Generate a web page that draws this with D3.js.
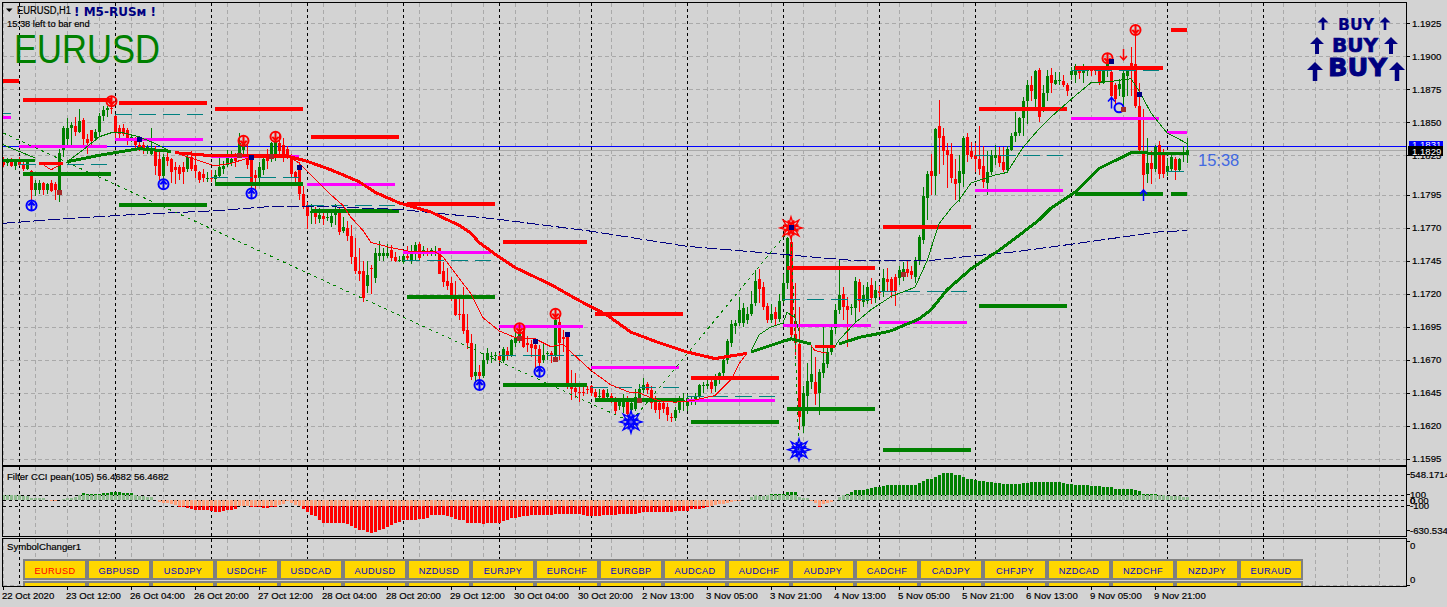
<!DOCTYPE html>
<html><head><meta charset="utf-8">
<script src="https://cdn.jsdelivr.net/npm/d3@7/dist/d3.min.js"></script>
<style>html,body{margin:0;padding:0;background:#d3d3d3;overflow:hidden}svg{display:block;font-family:"Liberation Sans",Arial,sans-serif}</style>
</head><body><svg id="c" width="1447" height="607"></svg>
<script>
// All prices are in points above 1.1000 (821 = 1.1821). Bars are hourly, index 0..296.
const opens=[821,819,820,817,820,818,815,813,799,799,
804,799,804,803,799,829,837,846,847,843,
852,837,844,838,843,855,859,861,855,846,
846,844,837,838,833,833,828,826,830,822,
809,824,822,816,816,816,815,824,818,812,
811,808,808,807,809,815,818,819,823,825,
829,826,824,810,808,814,824,824,826,834,
833,830,824,812,817,796,787,781,782,777,
779,778,774,780,781,768,770,764,748,737,
737,726,740,732,749,749,749,753,748,746,
744,749,746,751,758,752,752,752,751,755,
737,730,728,719,705,705,693,683,658,661,
658,670,672,673,673,669,677,674,683,687,
692,683,682,681,678,670,675,675,673,699,
687,687,652,649,646,646,648,650,646,642,
647,642,643,641,635,634,641,632,633,640,
647,652,647,639,637,637,634,627,626,632,
639,635,640,638,642,650,650,653,650,655,
660,670,683,696,698,698,700,705,713,731,
725,711,700,706,701,715,728,759,690,682,
620,643,653,653,645,660,667,676,694,708,
720,711,709,709,729,714,715,727,717,722,
722,731,731,733,732,733,739,737,733,745,
761,793,813,809,847,840,829,826,807,804,
811,839,828,825,822,817,804,812,823,825,
820,814,829,840,842,853,866,878,868,890,
861,872,886,879,881,881,878,886,886,890,
887,889,891,891,890,880,891,888,878,875,
869,885,895,894,862,828,811,819,815,833,
827,812,815,822,814,825,825];
const highs=[824,823,823,821,824,822,822,814,806,806,
805,804,806,805,830,847,853,850,854,860,
853,841,844,845,857,862,862,866,856,848,
849,846,841,839,837,835,833,846,832,828,
826,828,823,820,818,820,826,828,825,813,
815,812,814,814,823,821,829,828,827,842,
837,833,826,814,820,825,830,835,840,842,
838,832,826,813,820,802,790,788,786,785,
783,782,783,788,786,778,775,772,762,755,
745,745,742,755,760,755,758,757,752,749,
753,756,757,759,759,756,755,755,756,755,
744,740,733,730,719,725,705,690,682,666,
675,679,676,676,675,680,680,686,692,695,
695,688,685,683,681,683,677,677,704,704,
693,690,662,660,652,650,650,651,648,648,
648,648,645,642,641,644,643,640,648,652,
656,653,650,643,640,641,637,630,634,643,
645,644,643,645,652,653,655,656,659,661,
672,686,700,700,718,713,710,722,738,739,
729,713,712,710,720,735,763,765,728,710,
650,668,681,672,663,696,680,697,712,746,
725,718,712,733,731,727,729,732,730,726,
739,740,733,735,741,744,746,741,748,765,
801,813,826,846,867,846,834,834,822,825,
840,842,835,834,847,832,828,829,833,831,
831,832,842,858,854,869,882,885,890,891,
878,890,891,888,888,886,880,892,894,892,
894,893,892,893,893,893,897,890,880,883,
889,893,907,916,880,860,838,828,833,836,
830,823,826,824,823,832,838];
const lows=[816,817,816,814,817,813,814,791,794,796,
795,796,797,791,790,824,831,831,840,842,
831,826,832,836,840,851,854,856,838,838,
840,833,835,830,828,826,826,825,810,806,
805,817,804,803,806,803,812,813,808,804,
805,805,805,805,808,811,816,817,816,823,
824,815,799,797,804,810,815,820,821,826,
820,822,808,805,791,784,769,773,773,774,
772,775,771,772,765,766,760,743,735,730,
714,721,720,728,745,745,747,745,744,744,
743,745,743,745,745,749,749,749,749,735,
725,723,715,703,700,690,678,655,654,655,
656,667,668,669,668,668,670,672,680,683,
679,676,672,663,662,668,670,668,672,670,
676,648,640,641,638,643,644,643,640,639,
639,640,637,629,632,630,627,630,631,637,
645,644,633,630,625,630,624,623,624,630,
631,631,636,636,640,645,648,645,646,652,
656,667,680,690,696,695,697,703,711,713,
708,698,698,696,699,713,724,685,674,617,
615,629,648,636,628,656,664,674,690,705,
700,680,704,698,706,710,712,712,713,718,
718,722,717,711,727,730,733,731,728,742,
758,776,795,795,811,818,800,804,791,790,
801,820,822,812,810,800,795,810,818,816,
812,812,828,835,840,840,849,866,860,850,
858,866,872,878,878,877,870,882,880,883,
880,885,885,886,878,879,884,866,864,870,
860,870,870,861,828,795,804,803,812,807,
808,809,812,806,812,820,819];
const closes=[818,820,817,820,818,815,820,799,804,804,
799,803,798,799,827,846,846,848,843,851,
837,834,836,843,855,859,861,860,843,841,
841,836,839,833,829,829,831,830,817,809,
824,821,812,814,811,812,824,815,813,806,
808,808,807,810,816,817,824,822,821,834,
834,818,803,808,816,822,821,834,835,828,
825,824,811,808,796,786,779,783,778,780,
777,778,779,782,767,771,764,748,737,735,
717,734,739,751,751,751,751,747,745,746,
749,747,750,757,747,753,751,753,752,735,
729,726,718,704,704,692,683,657,661,658,
670,675,673,674,670,678,673,685,687,691,
680,681,679,678,668,674,675,673,700,683,
686,652,648,646,645,645,647,645,642,643,
640,645,641,631,639,641,629,637,642,648,
651,647,637,632,632,633,628,626,632,641,
640,641,640,643,651,651,652,648,656,660,
670,684,697,698,708,709,705,712,730,724,
710,700,705,701,715,728,762,689,683,627,
645,654,659,644,661,668,676,693,708,719,
710,708,710,730,715,719,725,717,723,721,
732,729,722,722,738,739,736,734,746,763,
794,811,809,845,838,828,825,808,803,813,
838,825,824,822,815,805,812,825,825,819,
814,830,840,843,853,866,878,874,889,854,
872,885,880,882,882,878,874,889,893,887,
890,890,889,889,880,889,895,870,868,879,
887,890,893,862,829,810,819,815,831,811,
811,817,824,814,822,827,829];
const cciValues=[95,95,92,90,88,85,80,50,45,45,
40,15,-8,-10,5,30,45,50,60,95,
136,118,112,118,124,136,142,154,154,154,
136,136,130,95,85,75,65,55,0,-30,
-40,-45,-70,-90,-118,-124,-136,-160,-178,-184,
-184,-184,-190,-214,-208,-196,-184,-178,-166,-98,
-96,-98,-130,-130,-130,-142,-142,-130,-124,-90,
-60,-20,-50,-80,-104,-154,-214,-274,-292,-364,
-412,-412,-412,-412,-412,-412,-424,-466,-502,-532,
-538,-580,-598,-574,-532,-526,-484,-454,-412,-388,
-364,-352,-352,-352,-340,-334,-316,-274,-268,-274,
-274,-292,-304,-340,-352,-364,-412,-412,-412,-412,
-436,-412,-412,-412,-412,-376,-364,-328,-328,-304,
-292,-292,-274,-274,-274,-274,-274,-274,-256,-256,
-244,-256,-256,-256,-256,-274,-292,-292,-292,-292,
-274,-274,-274,-274,-256,-256,-256,-256,-256,-232,
-220,-220,-220,-220,-220,-220,-220,-220,-202,-202,
-202,-196,-166,-166,-166,-142,-124,-106,-90,-70,
-60,-50,-30,-20,-5,0,15,60,90,85,
85,90,115,115,115,115,160,160,160,55,
50,45,-10,-50,-120,-60,-45,-30,10,60,
95,120,145,196,196,196,208,232,250,250,
268,286,286,286,286,286,286,286,286,322,
358,394,394,430,466,502,502,502,466,466,
430,394,394,376,358,346,328,328,322,310,
298,304,298,298,298,316,322,334,334,334,
334,334,334,334,334,316,304,298,286,286,
286,274,268,268,256,244,238,238,214,208,
208,202,202,190,166,124,124,124,118,95,
90,85,85,80,70,60,56];

// Fast moving average (thin line): bar, value, colour state
const thinBars=[0,8,9,12,15,16,20,24,27,30,34,38,42,43,49,53,57,62,67,72,74,82,85,87,90,92,97,102,108,110,113,117,120,124,128,133,137,140,142,147,152,157,159,164,168,172,178,182,184,186,187,189,192,195,196,198,199,202,203,206,208,209,213,217,222,228,231,234,237,239,242,248,251,255,259,262,268,272,277,282,284,287,291,296];
const thinPts=[833,823,820,814,819,820,829,839,842,842,839,834,828,827,821,817,819,823.5,823.5,823.5,819,795,787,778,768,759,755,752,752,748,736,720,702,692,687,686,680,682,676,662,651,645,645,639,638,639,643,655,667,675,677,689,695,698,706,702,692,681,677,675,680,685,698,708,718,725,745,773,785,791,804,810,812,831,845,854,870,880,881,883,874,857,842,834];
const thinColor=[].concat(Array(2).fill("g"),Array(3).fill("r"),Array(8).fill("g"),Array(37).fill("r"),Array(7).fill("g"),Array(3).fill("r"),Array(24).fill("g"));
// Slow moving average (thick line)
const thickBars=[0,8,9,15,16,24,34,42,43,51,59,71,76,82,89,93,99,107,114,117,119,124,128,137,144,151,157,164,171,178,186,187,191,196,197,202,203,208,209,214,219,222,229,232,236,242,249,253,259,262,268,274,278,282,290,296];
const thickPts=[821,821,819,819,820,825,830,828,827,825,824.5,824.5,820.5,814,805,797,789,782,772,766,759,748,740,727,715,704,691,683,676,671,675,676,680,685,686,682,680,680,682,687,690,692,701,708,723,739,753,762,776,785,797,815,821,827,826.5,826.5];
const thickColor=[].concat(Array(2).fill("g"),Array(2).fill("r"),Array(4).fill("g"),Array(23).fill("r"),Array(5).fill("g"),Array(2).fill("r"),Array(18).fill("g"));
// Long moving average (navy dashes)
const longBars=[0,16,32,53,66,82,99,124,147,171,191,202,214,231,240,252,268,289,296];
const longPts=[773.5,777,780,783,786,786,784,776.5,767.5,756,751,748,745,745,748,751.5,758,767,768];
// ZigZag (dotted)
const zigBars=[0,157,197,199];
const zigPts=[842,623,770,602];

// Daily levels
const redStart=[0,5,29,53,77,101,125,148,172,196,220,244,268,292];
const redEnd=[4,27,51,75,99,123,146,170,194,218,242,266,290,296];
const redLevels=[881,867,865,860,839,788,759,704.5,656,740,770.5,860,891,920];
const greenStart=[5,29,53,77,101,125,148,172,196,220,244,268,292];
const greenEnd=[27,51,75,99,123,146,170,194,218,242,266,290,296];
const greenLevels=[811,787,803,783,718,651,640,623,633,602,711,795.5,795.5];
const midStart=[0,4,28,52,76,100,124,147,171,195,219,243,267,291];
const midEnd=[2,26,50,74,98,122,145,169,193,217,241,265,289,296];
const magentaLevels=[854,832,837,824,803,751,695,664,639,696,698,798.5,853,842];
const tealLevels=[857,818,856,808,787,745.5,673.5,649,642,716,722,825,889,813];

// Signals
const redRingBars=[27,60,68,129,138,276,283], redRingPts=[866,836,839,694,705,898.5,920];
const blueRingBars=[7,40,62,119,134], blueRingPts=[787,803,796,651,661];
const navyBars=[34,62,74,133,141,197,277,284], navyPts=[837,823,816,684,689,770,896,871];
const brownBars=[14,59,67,129,138,159,225,280], brownPts=[797,825,824,686,670,639,735,860];
const redStarBars=[197], redStarPts=[770];
const blueStarBars=[157,199], blueStarPts=[623,602];
const upArrowBars=[277,285], upArrowPts=[865,795];
const downArrowBars=[280], downArrowPts=[901];

const askPts=831.3, bidPts=828.7;
const priceTicks=[925,900,875,850,825,795,770,745,720,695,670,645,620,595];
const dayBreakBars=[4,28,52,76,100,124,147,171,195,219,243,267,291,315];
const timeTickBars=[0,16,32,48,64,80,96,112,128,144,160,176,192,208,224,240,256,272,288];
const timeLabels=["22 Oct 2020","23 Oct 12:00","26 Oct 04:00","26 Oct 20:00","27 Oct 12:00","28 Oct 04:00","28 Oct 20:00","29 Oct 12:00","30 Oct 04:00","30 Oct 20:00","2 Nov 13:00","3 Nov 05:00","3 Nov 21:00","4 Nov 13:00","5 Nov 05:00","5 Nov 21:00","6 Nov 13:00","9 Nov 05:00","9 Nov 21:00"];
const symbols=["EURUSD","GBPUSD","USDJPY","USDCHF","USDCAD","AUDUSD","NZDUSD","EURJPY","EURCHF","EURGBP","AUDCAD","AUDCHF","AUDJPY","CADCHF","CADJPY","CHFJPY","NZDCAD","NZDCHF","NZDJPY","EURAUD"];

const GREEN="#008000",RED="#ff0000",NAVY="#000080",BLUE="#0000ff";
const colorOf={g:GREEN,r:RED};
const svg=d3.select("#c");
const x=d3.scaleLinear([0,296],[3,1187]);
const y=d3.scaleLinear([925,595],[23.3,458.9]);
const yc=d3.scaleLinear([548.17,-630.53],[470.2,535]);
const gridBars=d3.range(0,345,8);
const fmtP=v=>(1.1+v/1e4).toFixed(4);

const crisp="crispEdges";
const G=svg.append("g").attr("shape-rendering",crisp);
function hline(g,y0,x0,x1,c,dash,w){return g.append("line").attr("x1",x0).attr("x2",x1).attr("y1",y0).attr("y2",y0).attr("stroke",c).attr("stroke-width",w||1).attr("stroke-dasharray",dash||null);}
function vline(g,x0,y0,y1,c,dash){return g.append("line").attr("x1",x0).attr("x2",x0).attr("y1",y0).attr("y2",y1).attr("stroke",c).attr("stroke-dasharray",dash||null);}

// grid
const paneSpans=[[3,465],[467,536],[539,586]];
paneSpans.forEach(([a,b])=>gridBars.forEach(b0=>vline(G,x(b0)+.5,a,b,"#a9a9a9","4,3")));
priceTicks.forEach(t=>hline(G,Math.round(y(t))+.5,3,1406,"#a9a9a9","4,3"));
hline(G,585.5,3,1406,"#a9a9a9","4,3");

// CCI histogram
const cci=svg.append("g").attr("shape-rendering",crisp);
cci.selectAll("rect.l").data(cciValues).join("rect").attr("class","l")
 .attr("x",(d,i)=>x(i)-1).attr("width",3)
 .attr("y",d=>d>=0?yc(Math.min(d,100)):yc(0))
 .attr("height",d=>Math.abs(yc(Math.max(-100,Math.min(d,100)))-yc(0)))
 .attr("fill",d=>d>=0?"#8fbc8f":"#ffa07a");
cci.selectAll("rect.d").data(cciValues.map((v,i)=>({v,i})).filter(d=>Math.abs(d.v)>100)).join("rect").attr("class","d")
 .attr("x",d=>x(d.i)-1).attr("width",3)
 .attr("y",d=>d.v>0?yc(d.v):yc(-100))
 .attr("height",d=>d.v>0?yc(100)-yc(d.v):yc(d.v)-yc(-100))
 .attr("fill",d=>d.v>0?GREEN:RED);
[100,0,-100].forEach(l=>hline(G,Math.round(yc(l))+.5,3,1406,"#000","3,3"));

// Symbol buttons
const defs=svg.append("defs");
defs.append("clipPath").attr("id","pane3").append("rect").attr("x",3).attr("y",539).attr("width",1403).attr("height",47);
const btnX=d3.scaleLinear([0,1],[24,88]);
const btn=svg.append("g").attr("clip-path","url(#pane3)").attr("shape-rendering",crisp);
[560,582].forEach(top=>btn.selectAll(null).data(symbols).join("rect")
 .attr("x",(d,i)=>btnX(i)).attr("y",top).attr("width",62).attr("height",19)
 .attr("fill","#ffd700").attr("stroke","#808080").attr("stroke-width",2));
svg.append("g").selectAll("text").data(symbols).join("text")
 .attr("x",(d,i)=>btnX(i)+31).attr("y",573.5).attr("text-anchor","middle")
 .attr("font-size",9.2).attr("letter-spacing",.4)
 .attr("fill",(d,i)=>i===0?RED:"#0000cd").text(d=>d);

// day separators
paneSpans.forEach(([a,b])=>dayBreakBars.forEach(b0=>vline(G,x(b0)+.5,a,b,"#000","3,3")));

// price lines (below the indicators)
[[bidPts,"#a9a9a9"],[askPts,BLUE]].forEach(([p,c])=>svg.append("rect").attr("shape-rendering",crisp)
 .attr("x",3).attr("width",1403).attr("y",Math.floor(y(p))).attr("height",1).attr("fill",c));

// candles
const cg=svg.append("g").attr("shape-rendering",crisp);
const bars=opens.map((o,i)=>({i,o,h:highs[i],l:lows[i],c:closes[i]}));
const col=d=>d.c>=d.o?GREEN:RED;
cg.selectAll("rect.w").data(bars).join("rect").attr("class","w")
 .attr("x",d=>x(d.i)).attr("width",1).attr("y",d=>y(d.h)).attr("height",d=>y(d.l)-y(d.h)).attr("fill",col);
cg.selectAll("rect.b").data(bars).join("rect").attr("class","b")
 .attr("x",d=>x(d.i)-1).attr("width",3)
 .attr("y",d=>y(Math.max(d.o,d.c))).attr("height",d=>Math.max(1,Math.abs(y(d.o)-y(d.c)))).attr("fill",col);

// levels
function levels(starts,ends,vals,c,w,dash){
 svg.append("g").attr("shape-rendering",crisp).selectAll("line").data(vals).join("line")
  .attr("x1",(d,i)=>x(starts[i])).attr("x2",(d,i)=>x(ends[i]))
  .attr("y1",d=>y(d)).attr("y2",d=>y(d))
  .attr("stroke",c).attr("stroke-width",w).attr("stroke-dasharray",dash||null);
}
levels(midStart,midEnd,tealLevels,"#008080",1,"17,7");
levels(midStart,midEnd,magentaLevels,"#ff00ff",3);
levels(redStart,redEnd,redLevels,RED,4);
levels(greenStart,greenEnd,greenLevels,GREEN,4);

// moving averages
const lineGen=d3.line().x(d=>x(d.b)).y(d=>y(d.v));
function ma(barsA,ptsA,colA,w){
 const segs=[];let cur=null;
 barsA.forEach((b,i)=>{const c=colA[i];if(!cur||cur.c!==c){cur={c,pts:[]};segs.push(cur);}cur.pts.push({b,v:ptsA[i]});});
 segs.forEach(s=>svg.append("path").attr("d",lineGen(s.pts)).attr("fill","none").attr("stroke",colorOf[s.c]).attr("stroke-width",w).attr("shape-rendering",crisp));
}
svg.append("path").attr("d",lineGen(longBars.map((b,i)=>({b,v:longPts[i]})))).attr("fill","none").attr("stroke",NAVY).attr("stroke-dasharray","12,3").attr("shape-rendering",crisp);
svg.append("path").attr("d",lineGen(zigBars.map((b,i)=>({b,v:zigPts[i]})))).attr("fill","none").attr("stroke",GREEN).attr("stroke-dasharray","3,4").attr("shape-rendering",crisp);
ma(thinBars,thinPts,thinColor,1);
ma(thickBars,thickPts,thickColor,3);

// markers
function ring(bs,ps,c,down){
 bs.forEach((b,i)=>{
  const g=svg.append("g").attr("transform",`translate(${x(b)+.5},${y(ps[i])})`).attr("fill","none").attr("stroke",c);
  g.append("circle").attr("r",5).attr("stroke-width",2);
  const s=down?1:-1;
  g.append("path").attr("stroke-width",2).attr("d",`M0,${-4.5*s}V${4*s}M${-3.2},${0}L0,${3.5*s}L3.2,${0}`);
 });
}
ring(redRingBars,redRingPts,RED,true);
ring(blueRingBars,blueRingPts,BLUE,false);
svg.append("circle").attr("cx",x(279)).attr("cy",y(861)).attr("r",4.5).attr("fill","none").attr("stroke",BLUE).attr("stroke-width",2);
function squares(bs,ps,c,s){svg.append("g").attr("shape-rendering",crisp).selectAll("rect").data(bs).join("rect")
 .attr("x",d=>x(d)-s/2+.5).attr("y",(d,i)=>y(ps[i])-s/2).attr("width",s).attr("height",s).attr("fill",c);}
function star(bs,ps,c){
 const rad=d3.lineRadial().angle(d=>d.a).radius(d=>d.r).curve(d3.curveLinearClosed);
 const poly=(n,r1,r2,off)=>d3.range(n*2).map(k=>({a:off+k*Math.PI/n,r:k%2?r2:r1}));
 bs.forEach((b,i)=>{
  const g=svg.append("g").attr("transform",`translate(${x(b)},${y(ps[i])})`).attr("fill","none").attr("stroke",c).attr("stroke-width",1.4);
  g.append("path").attr("d",rad(poly(8,11,5,0)));
  g.append("path").attr("d",rad(poly(8,8,3,Math.PI/8)));
  g.append("path").attr("d",rad(poly(6,6,2,0)));
  g.append("circle").attr("r",4).attr("fill",c).attr("fill-opacity",.55).attr("stroke","none");
 });
}
star(blueStarBars,blueStarPts,BLUE);
star(redStarBars,redStarPts,RED);
squares(brownBars,brownPts,"#a52a2a",5);
squares(navyBars,navyPts,NAVY,5);
function arrow(bs,ps,c,dir){bs.forEach((b,i)=>svg.append("path")
 .attr("transform",`translate(${x(b)+.5},${y(ps[i])})`).attr("fill","none").attr("stroke",c).attr("stroke-width",1.5)
 .attr("d",`M0,${dir*6}V${-dir*5}M-3.5,${-dir*1}L0,${-dir*5}L3.5,${-dir*1}`));}
arrow(upArrowBars,upArrowPts,BLUE,1);
arrow(downArrowBars,downArrowPts,RED,-1);

// frames
const F=svg.append("g").attr("shape-rendering",crisp);
paneSpans.forEach(([a,b])=>F.append("rect").attr("x",2.5).attr("y",a-.5).attr("width",1404).attr("height",b-a+.5).attr("fill","none").attr("stroke","#000"));

// small-text weight
const ink=s=>s.attr("stroke","#000").attr("stroke-width",.18);

// price axis
const ax=svg.append("g").attr("transform","translate(1407,0)")
 .call(d3.axisRight(y).tickValues(priceTicks).tickFormat(fmtP).tickSize(3).tickPadding(2));
ax.select(".domain").remove();
ax.selectAll("text").attr("font-size",9.6).attr("fill","#000").attr("font-family",'"Liberation Sans",Arial,sans-serif').call(ink);
ax.selectAll("line").attr("shape-rendering",crisp);
// ask/bid tags
svg.append("rect").attr("x",1409).attr("y",141).attr("width",34).attr("height",8).attr("fill",BLUE);
svg.append("text").attr("x",1412).attr("y",148).attr("font-size",9.6).attr("fill","#fff").text(fmtP(askPts));
svg.append("rect").attr("x",1408).attr("y",146).attr("width",35).attr("height",10).attr("fill","#000");
svg.append("text").attr("x",1412).attr("y",154.5).attr("font-size",9.6).attr("fill","#fff").text(fmtP(bidPts));

// CCI labels
const cciLabels=[["548.1714",474],["100",494],["0.00",500.5],["0",500.5],["-100",505.5],["-630.5345",530]];
svg.append("g").selectAll("text").data(cciLabels).join("text").attr("x",1410).attr("y",d=>d[1]+3.5).attr("font-size",9.6).text(d=>d[0]).call(ink);
svg.append("g").selectAll("text").data([545,579]).join("text").attr("x",1410).attr("y",d=>d+3.5).attr("font-size",9.6).text("0").call(ink);
svg.append("g").attr("shape-rendering",crisp).selectAll("line").data([494,505,474,530,541,585]).join("line")
 .attr("x1",1407).attr("x2",1410).attr("y1",d=>d+.5).attr("y2",d=>d+.5).attr("stroke","#000");

// time axis
const tAxis=svg.append("g").attr("transform","translate(0,586)")
 .call(d3.axisBottom(x).tickValues(timeTickBars).tickFormat((d,i)=>timeLabels[i]).tickSize(4).tickPadding(2));
tAxis.select(".domain").remove();
tAxis.selectAll("line").attr("shape-rendering",crisp);
tAxis.selectAll("text").attr("text-anchor","start").attr("dx",-1.5).attr("font-size",9.6).attr("fill","#000").attr("font-family",'"Liberation Sans",Arial,sans-serif').call(ink);

// titles
svg.append("path").attr("d","M6,8.5h6.5l-3.25,3.5z").attr("fill","#000");
svg.append("text").attr("x",17).attr("y",14).attr("font-size",10).attr("textLength",54).attr("lengthAdjust","spacingAndGlyphs").text("EURUSD,H1").call(ink);
svg.append("text").attr("x",74).attr("y",15.5).attr("font-size",12.5).attr("font-weight","bold").attr("font-family","DejaVu Sans").attr("fill",NAVY).attr("textLength",82).attr("lengthAdjust","spacingAndGlyphs").text("! M5-RUSм !");
svg.append("text").attr("x",7).attr("y",26.5).attr("font-size",9.3).text("15:38 left to bar end").call(ink);
svg.append("text").attr("x",14).attr("y",62.5).attr("font-size",41).attr("fill",GREEN).attr("textLength",146).attr("lengthAdjust","spacingAndGlyphs").text("EURUSD");
svg.append("text").attr("x",1198).attr("y",165.5).attr("font-size",16.5).attr("fill","#4169e1").text("15:38");
svg.append("text").attr("x",7).attr("y",480).attr("font-size",9.6).text("Filter CCI pean(105)  56.4682 56.4682").call(ink);
svg.append("text").attr("x",7).attr("y",550).attr("font-size",9.6).text("SymbolChanger1").call(ink);

// BUY block
function bigArrow(cx,top,h,w,sw){svg.append("path").attr("fill",NAVY)
 .attr("d",`M${cx-sw/2},${top+h}V${top+w}H${cx-w}L${cx},${top}L${cx+w},${top+w}H${cx+sw/2}V${top+h}Z`);}
const buyRows=[[1338,29.5,16,36,1323,1385,17,13,5.5,2.6,.2],[1332,51.5,20,46,1317,1391,37,17,7,4,.7],[1328,76,24,59,1315,1397,62,19,8,4.5,.9]];
buyRows.forEach(r=>{
 svg.append("text").attr("x",r[0]).attr("y",r[1]).attr("font-size",r[2]).attr("font-weight","bold").attr("font-family","DejaVu Sans").attr("fill",NAVY).attr("stroke",NAVY).attr("stroke-width",r[10]).attr("textLength",r[3]).attr("lengthAdjust","spacingAndGlyphs").text("BUY");
 bigArrow(r[4],r[6],r[7],r[8],r[9]);bigArrow(r[5],r[6],r[7],r[8],r[9]);
});
</script></body></html>
